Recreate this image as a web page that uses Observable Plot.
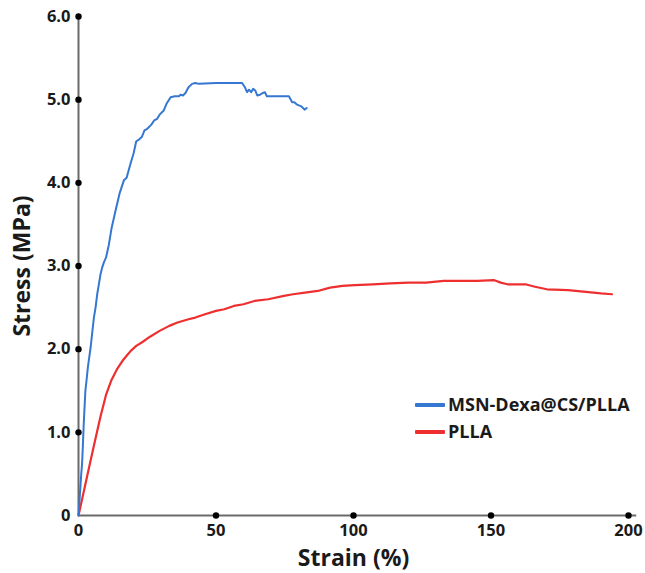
<!DOCTYPE html>
<html>
<head>
<meta charset="utf-8">
<script src="https://cdn.jsdelivr.net/npm/d3@7"></script>
<script src="https://cdn.jsdelivr.net/npm/@observablehq/plot@0.6"></script>
<style>
  html, body { margin: 0; padding: 0; background: #fff; }
  #wrap { position: relative; width: 645px; height: 573px; font-family: "Open Sans", "Noto Sans", sans-serif; }
  #legend { position: absolute; left: 415px; top: 391px; font-weight: 700; font-size: 18px; color: #1a1a1a; line-height: 27px; }
  #legend .item { display: flex; align-items: center; white-space: nowrap; height: 27px; }
  #legend .sw { display: inline-block; width: 30px; height: 4px; margin-right: 3px; border-radius: 1px; }
</style>
</head>
<body>
<div id="wrap"><div id="chart"></div><div id="legend"></div></div>
<script>
const seriesNames = ["MSN-Dexa@CS/PLLA", "PLLA"];
const seriesColors = ["#3677d1", "#ee2f2f"];

const blueStrain = [0,0.5,1.0,1.3,1.6,1.9,2.2,2.5,3.0,3.4,3.9,4.4,5.0,5.6,6.2,6.8,7.4,8.0,8.6,9.3,10.0,11,12,13.5,15,16.5,17.5,18.9,20,21,22,23,24,25,26.5,27.5,28.6,29.5,31,32,33.5,35,36.5,37.1,38,38.9,40,41.3,42.5,43.8,50,59.5,60.5,61.3,62,62.8,63.5,64.3,65,66,67,67.8,68.5,72,76.5,77.2,77.7,78.5,79.5,81,82.2,83];
const blueStress = [0,0.25,0.5,0.62,0.85,1.1,1.3,1.5,1.65,1.78,1.9,2.02,2.2,2.38,2.5,2.66,2.78,2.9,2.98,3.05,3.1,3.25,3.45,3.67,3.88,4.03,4.06,4.23,4.35,4.5,4.52,4.55,4.63,4.65,4.7,4.75,4.77,4.82,4.87,4.95,5.03,5.04,5.04,5.06,5.05,5.08,5.15,5.19,5.2,5.19,5.2,5.2,5.15,5.09,5.12,5.09,5.13,5.11,5.05,5.06,5.08,5.09,5.04,5.04,5.04,5.0,4.97,4.97,4.94,4.92,4.88,4.9];

const redStrain = [0,2,4,6,8,10,12,14,16,17.5,19,21,23,26,29.5,33,36,40,42.5,46,50,53,56.5,60,64,69,74.7,78,82.4,87,91.5,96,100.5,107,113.4,120,126.4,132.8,139.3,145,151,152,153.5,156,160,162.5,166,170.3,178,184.5,190,194];
const redStress = [0,0.3,0.6,0.9,1.19,1.45,1.63,1.76,1.86,1.92,1.98,2.04,2.08,2.15,2.22,2.28,2.32,2.36,2.38,2.42,2.46,2.48,2.52,2.54,2.58,2.6,2.64,2.66,2.68,2.7,2.74,2.76,2.77,2.78,2.79,2.8,2.8,2.82,2.82,2.82,2.83,2.82,2.8,2.78,2.78,2.78,2.75,2.72,2.71,2.69,2.67,2.66];

const xTicks = [0, 50, 100, 150, 200];
const yTicks = [0, 1, 2, 3, 4, 5, 6];
const yTickLabels = ["0", "1.0", "2.0", "3.0", "4.0", "5.0", "6.0"];

const blue = blueStrain.map((x, i) => ({x, y: blueStress[i]}));
const red = redStrain.map((x, i) => ({x, y: redStress[i]}));

const font = '"Open Sans", "Noto Sans", sans-serif';

const chart = Plot.plot({
  width: 645,
  height: 573,
  marginLeft: 78,
  marginRight: 17,
  marginTop: 16,
  marginBottom: 58,
  style: {fontFamily: font, background: "#fff", overflow: "visible"},
  x: {domain: [0, 200], axis: null},
  y: {domain: [0, 6], axis: null},
  marks: [
    Plot.ruleY([0], {x1: 0, x2: 203, stroke: "#6a6a6a", strokeWidth: 2}),
    Plot.ruleX([0], {y1: 0, y2: 6, stroke: "#6a6a6a", strokeWidth: 2}),
    Plot.line(red, {x: "x", y: "y", stroke: seriesColors[1], strokeWidth: 2.2}),
    Plot.line(blue, {x: "x", y: "y", stroke: seriesColors[0], strokeWidth: 2}),
    Plot.dot(xTicks.slice(1), {x: d => d, y: 0, r: 3.2, fill: "#000", stroke: null}),
    Plot.dot(yTicks.slice(1), {x: 0, y: d => d, r: 3.2, fill: "#000", stroke: null}),
    Plot.text(xTicks, {x: d => d, y: 0, text: d => String(d), dy: 15, fontSize: 16.5, fontWeight: 700, fill: "#1a1a1a"}),
    Plot.text(yTicks, {x: 0, y: d => d, text: (d, i) => yTickLabels[i], dx: -8, textAnchor: "end", fontSize: 16.5, fontWeight: 700, fill: "#1a1a1a"}),
    Plot.text(["Strain (%)"], {x: 100, y: 0, dy: 43, fontSize: 23, fontWeight: 700, fill: "#1a1a1a"}),
    Plot.text(["Stress (MPa)"], {frameAnchor: "left", dx: -56, rotate: -90, textAnchor: "middle", fontSize: 23, fontWeight: 700, fill: "#1a1a1a"})
  ]
});
document.getElementById("chart").appendChild(chart);

const legend = document.getElementById("legend");
seriesNames.forEach((name, i) => {
  const item = document.createElement("div");
  item.className = "item";
  const sw = document.createElement("span");
  sw.className = "sw";
  sw.style.background = seriesColors[i];
  const t = document.createElement("span");
  t.textContent = name;
  item.appendChild(sw);
  item.appendChild(t);
  legend.appendChild(item);
});
</script>
</body>
</html>
